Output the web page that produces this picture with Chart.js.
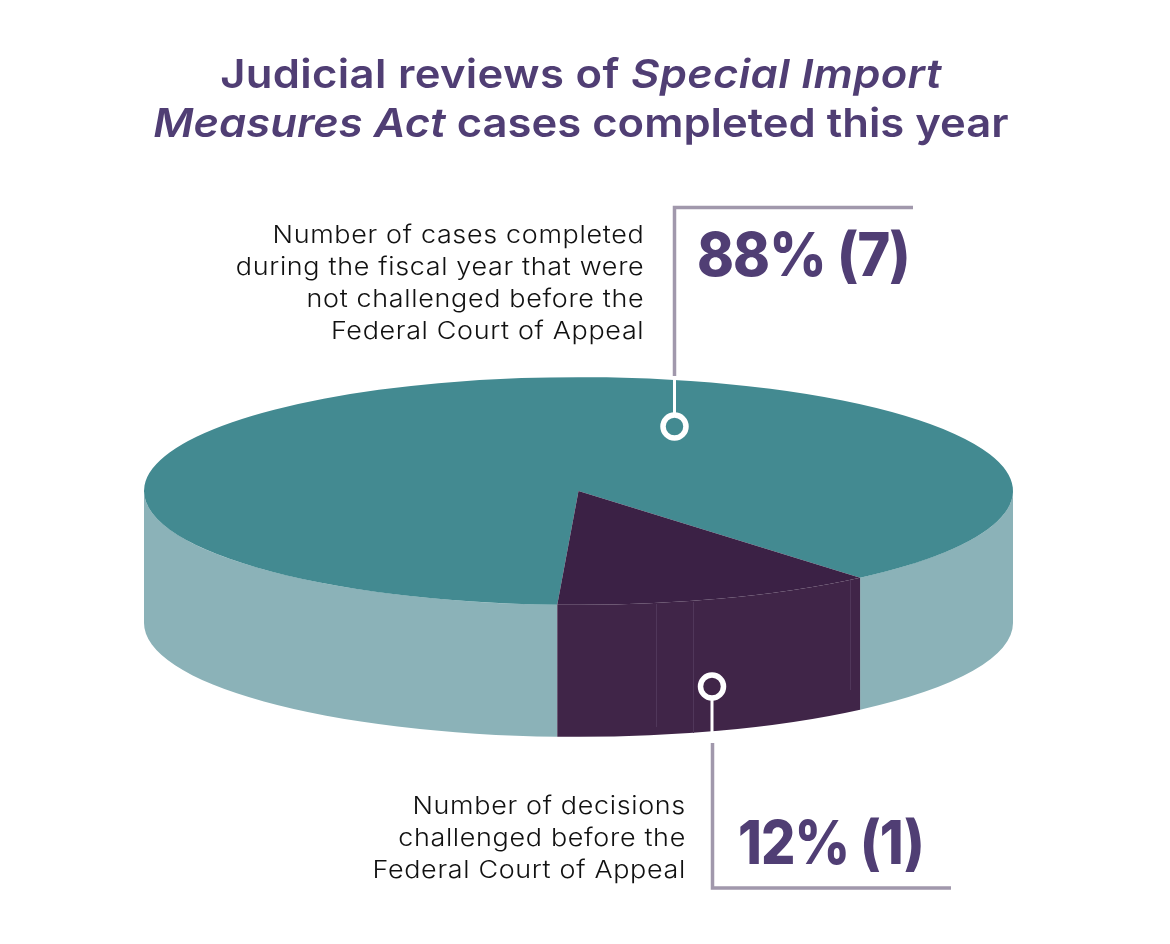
<!DOCTYPE html>
<html>
<head>
<meta charset="utf-8">
<title>Judicial reviews</title>
<script src="https://cdn.jsdelivr.net/npm/chart.js@4/dist/chart.umd.min.js"></script>
<style>
html, body { margin: 0; padding: 0; background: #fff; }
#wrap { position: relative; width: 1170px; height: 944px; overflow: hidden; font-family: Inter, "Open Sans", sans-serif; }
#pie { position: absolute; left: 0; top: 0; }
.txt { position: absolute; white-space: nowrap; }
.title { left: 0; width: 1162px; text-align: center; top: 49px; font-size: 40px; line-height: 49px; font-weight: 600; color: #503e74; transform: scaleX(1.09); }
.note { text-align: right; font-size: 24.5px; line-height: 32px; font-weight: 300; color: #111; letter-spacing: 0.6px; transform: scaleX(1.1); transform-origin: right center; }
.big { font-size: 60px; line-height: 70px; font-weight: 800; color: #503e74; letter-spacing: -1px; transform-origin: left center; }
</style>
</head>
<body>
<div id="wrap">
  <canvas id="pie" width="1170" height="944"></canvas>
  <div class="txt title"><span style="letter-spacing:.3px">Judicial reviews of <i>Special Import</i></span><br><i>Measures Act</i> cases completed this year</div>
  <div class="txt note" style="right:526px;top:218px">Number of cases completed<br>during the fiscal year that were<br>not challenged before the<br>Federal Court of Appeal</div>
  <div class="txt big" style="left:697px;top:219px;transform:scaleX(.93)">88% (7)</div>
  <div class="txt note" style="right:484px;top:789px">Number of decisions<br>challenged before the<br>Federal Court of Appeal</div>
  <div class="txt big" style="left:738px;top:807px;transform:scaleX(.9)">12% (1)</div>
</div>
<script>
var categories = ["Not challenged before the Federal Court of Appeal", "Challenged before the Federal Court of Appeal"];
var shares = [88, 12];
var topColors = ["#438a91", "#3b2145"];
var sideColors = ["#8bb2b8", "#402548"];

var squash = 114 / 435;
var depth = 132;

// the pie is drawn flat by Chart.js, squashed here to get the tilted look
var tiltPlugin = {
    id: 'tilt',
    beforeDatasetsDraw: function (chart) {
        var ctx = chart.ctx;
        var arcs = chart.getDatasetMeta(0).data;
        arcs.forEach(function (arc, i) {
            // only the front half of the rim can be seen
            [0, 2 * Math.PI].forEach(function (turn) {
                var a1 = Math.max(arc.startAngle, turn);
                var a2 = Math.min(arc.endAngle, turn + Math.PI);
                if (a2 <= a1) return;
                ctx.beginPath();
                ctx.ellipse(arc.x, arc.y, arc.outerRadius, arc.outerRadius * squash, 0, a1, a2);
                ctx.ellipse(arc.x, arc.y + depth, arc.outerRadius, arc.outerRadius * squash, 0, a2, a1, true);
                ctx.closePath();
                ctx.fillStyle = sideColors[i];
                ctx.fill();
            });
        });
        var c = arcs[0];
        ctx.save();
        ctx.translate(c.x, c.y);
        ctx.scale(1, squash);
        ctx.translate(-c.x, -c.y);
    },
    afterDatasetsDraw: function (chart) {
        var ctx = chart.ctx;
        ctx.restore();

        // faint seams on the dark part of the rim
        ctx.strokeStyle = '#50375a';
        ctx.lineWidth = 1;
        ctx.beginPath();
        ctx.moveTo(656.5, 604);
        ctx.lineTo(656.5, 727);
        ctx.moveTo(693.5, 602);
        ctx.lineTo(693.5, 733);
        ctx.moveTo(850.5, 580);
        ctx.lineTo(850.5, 690);
        ctx.stroke();

        // leader lines
        ctx.lineCap = 'butt';
        ctx.strokeStyle = '#a198ac';
        ctx.lineWidth = 3.5;
        ctx.beginPath();
        ctx.moveTo(913, 207.5);
        ctx.lineTo(674.5, 207.5);
        ctx.lineTo(674.5, 376);
        ctx.moveTo(712.5, 743);
        ctx.lineTo(712.5, 888);
        ctx.lineTo(951, 888);
        ctx.stroke();

        ctx.strokeStyle = '#fff';
        ctx.lineWidth = 3;
        ctx.beginPath();
        ctx.moveTo(674.5, 376);
        ctx.lineTo(674.5, 416);
        ctx.moveTo(712, 697);
        ctx.lineTo(712, 743);
        ctx.stroke();

        ctx.lineWidth = 5.5;
        ctx.beginPath();
        ctx.arc(674.5, 426.5, 11.5, 0, 2 * Math.PI);
        ctx.stroke();
        ctx.beginPath();
        ctx.arc(712, 686.5, 11.5, 0, 2 * Math.PI);
        ctx.stroke();
    }
};

var ctx = document.getElementById('pie');
var chart = new Chart(ctx, {
    type: 'pie',
    data: {
        labels: categories,
        datasets: [{
            data: shares,
            backgroundColor: topColors,
            borderWidth: 0
        }]
    },
    options: {
        responsive: false,
        animation: false,
        rotation: 182.8,
        layout: { padding: { left: 144, right: 157, top: 56, bottom: 18 } },
        plugins: {
            legend: { display: false },
            tooltip: { enabled: false }
        }
    },
    plugins: [tiltPlugin]
});
</script>
</body>
</html>
